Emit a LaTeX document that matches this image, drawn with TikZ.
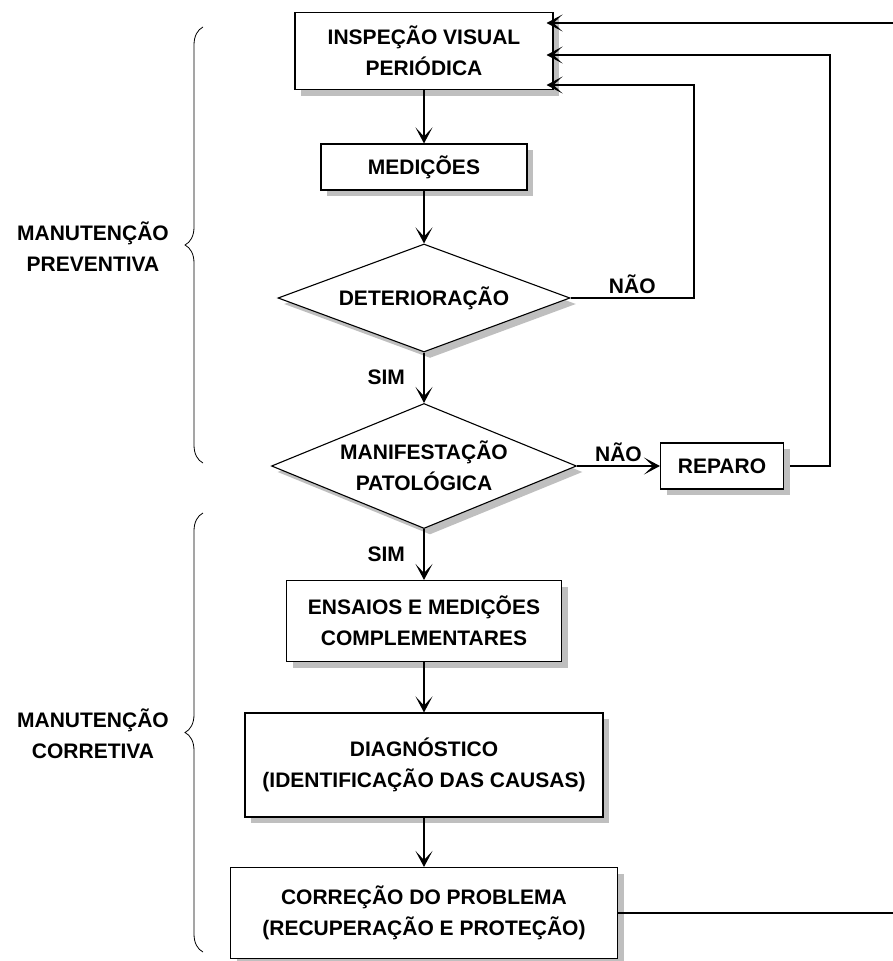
\documentclass[tikz,border=0pt]{standalone}
\usepackage{fontspec}
\setmainfont{Liberation Sans}
\usetikzlibrary{shapes.geometric, arrows.meta, shadows, decorations.pathreplacing}

\begin{document}
\begin{tikzpicture}[x=1pt, y=-1pt, every node/.style={font=\fontsize{21}{31}\selectfont\bfseries, align=center}, box/.style={rectangle, draw, line width=1.1pt, fill=white, inner sep=0pt, drop shadow={shadow xshift=6pt, shadow yshift=-6pt, fill=black!25, opacity=1}}, decision/.style={diamond, draw, line width=1.1pt, fill=white, inner sep=0pt, aspect=2.5, drop shadow={shadow xshift=6pt, shadow yshift=-6pt, fill=black!25, opacity=1}}, flow/.style={line width=1.6pt, -{Stealth[length=16pt, width=17pt, inset=9pt]}}, back/.style={line width=1.2pt, -{Stealth[length=16pt, width=17pt, inset=9pt]}, shorten >=-7pt}, group/.style={decorate, decoration={brace, amplitude=18pt}, line width=0.8pt}]
        \useasboundingbox (0,0) rectangle (892,961);

		\node[box, minimum width=258pt, minimum height=77pt] (insp) at (424,51) {INSPEÇÃO VISUAL\\PERIÓDICA};
		\node[box, minimum width=206pt, minimum height=46pt] (med) at (424,167) {MEDIÇÕES};
		\node[decision, minimum width=292pt, minimum height=108pt] (det) at (424,298) {DETERIORAÇÃO};
		\node[decision, minimum width=305pt, minimum height=125pt] (man) at (424,466) {MANIFESTAÇÃO\\PATOLÓGICA};
		\node[box, minimum width=123pt, minimum height=46pt] (rep) at (722,466) {REPARO};
		\node[box, minimum width=275pt, minimum height=81pt] (ens) at (424,621) {ENSAIOS E MEDIÇÕES\\COMPLEMENTARES};
		\node[box, minimum width=358pt, minimum height=104pt] (diag) at (424,765) {DIAGNÓSTICO\\(IDENTIFICAÇÃO DAS CAUSAS)};
		\node[box, minimum width=387pt, minimum height=91pt] (corr) at (424,913) {CORREÇÃO DO PROBLEMA\\(RECUPERAÇÃO E PROTEÇÃO)};

        \node (prev) at (93,247) {MANUTENÇÃO\\PREVENTIVA};
        \node (corv) at (93,734) {MANUTENÇÃO\\CORRETIVA};
        \draw[group] (203,463) -- (203,27);
        \draw[group] (203,952) -- (203,513);

        \coordinate (r1) at (897,23);
        \coordinate (r2) at (830,55);
        \coordinate (r3) at (694,85);

		\draw[flow] (insp) -- (med);
		\draw[flow] (med) -- (det);
		\draw[flow] (det) -- node[left=15pt] {SIM} (man);
		\draw[flow] (man) -- node[left=15pt] {SIM} (ens);
		\draw[flow] (ens) -- (diag);
		\draw[flow] (diag) -- (corr);
		\draw[flow] (man) -- node[above] {NÃO} (rep);

        \draw[back] (det.east) -- node[above] {NÃO} (det.east -| r3) -- (r3) -- (insp.east |- r3);
        \draw[back] ([xshift=6pt]rep.east) -- (rep.east -| r2) -- (r2) -- (insp.east |- r2);
        \draw[back] (corr.east) -- (corr.east -| r1) -- (r1) -- (insp.east |- r1);
	\end{tikzpicture}
\end{document}
